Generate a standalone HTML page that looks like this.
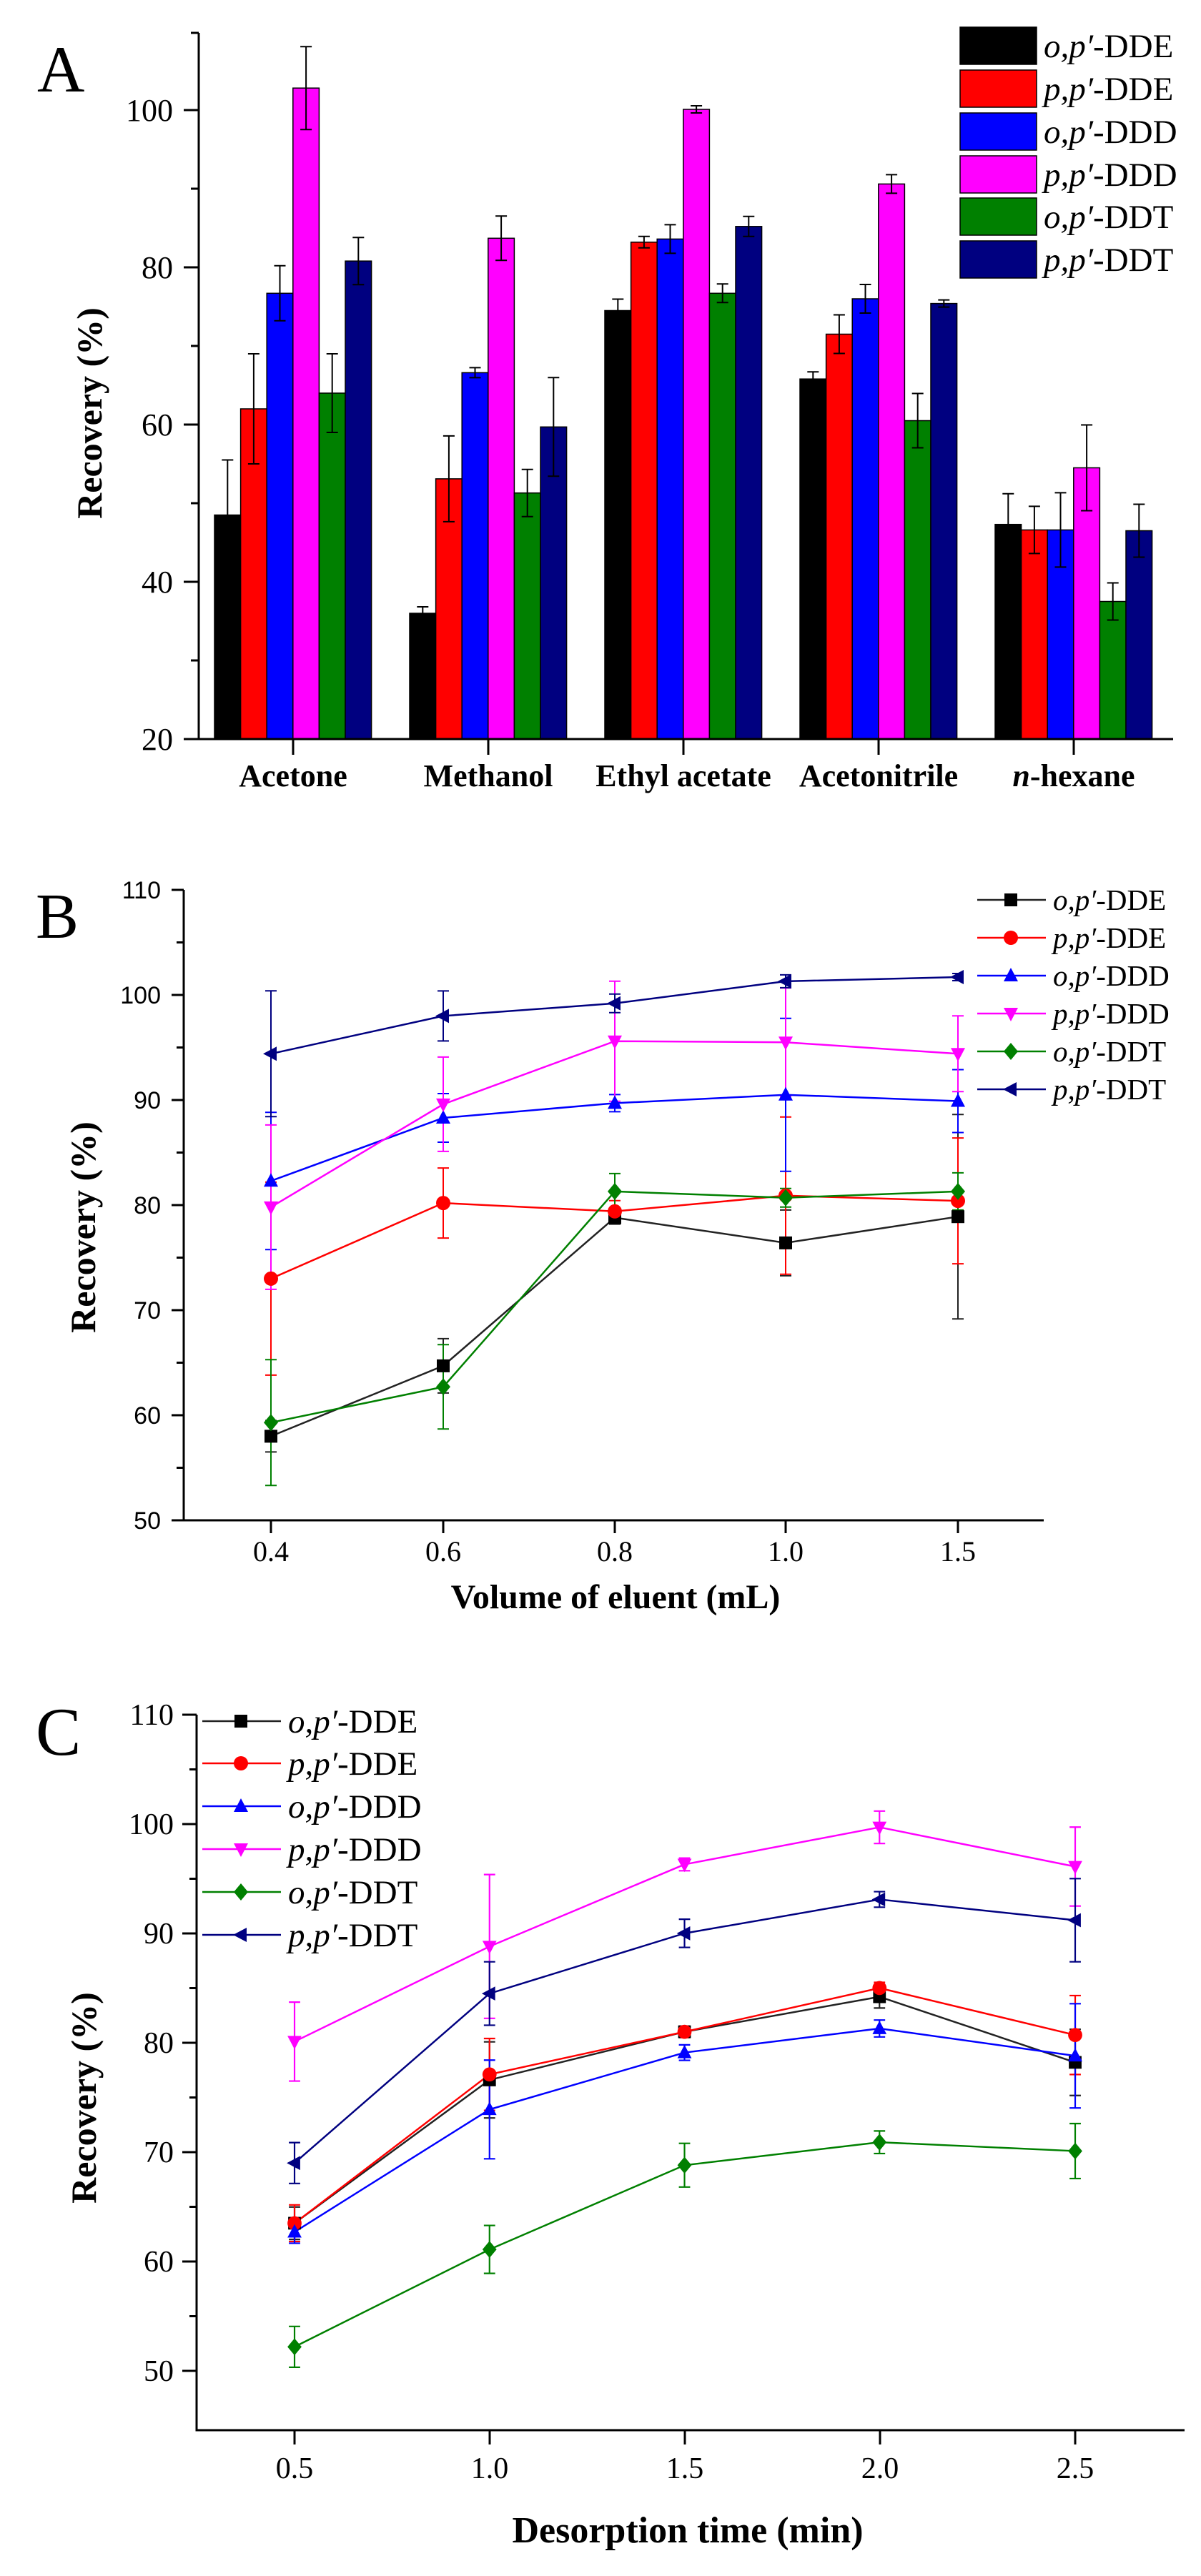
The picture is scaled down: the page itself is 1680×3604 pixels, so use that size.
<!DOCTYPE html>
<html><head><meta charset="utf-8"><style>
html,body{margin:0;padding:0;background:#fff}
svg{display:block}
.t{font-family:"Liberation Serif",serif}
.s{font-family:"Liberation Sans",sans-serif}
</style></head><body>
<svg width="1680" height="3604" viewBox="0 0 1680 3604" xmlns="http://www.w3.org/2000/svg">
<defs>
<rect id="sq" x="-9" y="-9" width="18" height="18"/>
<circle id="ci" r="10"/>
<polygon id="tu" points="0,-11 10,8 -10,8"/>
<polygon id="td" points="0,11 10,-8 -10,-8"/>
<polygon id="di" points="0,-12 10,0 0,12 -10,0"/>
<polygon id="tl" points="-11,0 8,-10 8,10"/>
</defs>

<!-- ================= A ================= -->
<text x="52" y="128" class="t" font-size="92">A</text>
<g stroke="#000" stroke-width="1.5">
<rect x="300" y="720.5" width="36.6" height="313.5" fill="#000"/>
<rect x="336.6" y="572" width="36.6" height="462" fill="#f00"/>
<rect x="373.2" y="410.3" width="36.6" height="623.7" fill="#00f"/>
<rect x="409.8" y="123.2" width="36.6" height="910.8" fill="#f0f"/>
<rect x="446.4" y="550" width="36.6" height="484" fill="#008000"/>
<rect x="483" y="365.2" width="36.6" height="668.8" fill="#000080"/>
<rect x="573" y="858" width="36.6" height="176" fill="#000"/>
<rect x="609.6" y="669.9" width="36.6" height="364.1" fill="#f00"/>
<rect x="646.2" y="521.4" width="36.6" height="512.6" fill="#00f"/>
<rect x="682.8" y="333.3" width="36.6" height="700.7" fill="#f0f"/>
<rect x="719.4" y="689.7" width="36.6" height="344.3" fill="#008000"/>
<rect x="756" y="597.3" width="36.6" height="436.7" fill="#000080"/>
<rect x="846" y="434.5" width="36.6" height="599.5" fill="#000"/>
<rect x="882.6" y="338.8" width="36.6" height="695.2" fill="#f00"/>
<rect x="919.2" y="334.4" width="36.6" height="699.6" fill="#00f"/>
<rect x="955.8" y="153" width="36.6" height="881" fill="#f0f"/>
<rect x="992.4" y="410.3" width="36.6" height="623.7" fill="#008000"/>
<rect x="1029" y="316.8" width="36.6" height="717.2" fill="#000080"/>
<rect x="1119" y="530.2" width="36.6" height="503.8" fill="#000"/>
<rect x="1155.6" y="467.5" width="36.6" height="566.5" fill="#f00"/>
<rect x="1192.2" y="418" width="36.6" height="616" fill="#00f"/>
<rect x="1228.8" y="257.4" width="36.6" height="776.6" fill="#f0f"/>
<rect x="1265.4" y="588.5" width="36.6" height="445.5" fill="#008000"/>
<rect x="1302" y="424.6" width="36.6" height="609.4" fill="#000080"/>
<rect x="1392" y="733.7" width="36.6" height="300.3" fill="#000"/>
<rect x="1428.6" y="741.4" width="36.6" height="292.6" fill="#f00"/>
<rect x="1465.2" y="741.4" width="36.6" height="292.6" fill="#00f"/>
<rect x="1501.8" y="654.5" width="36.6" height="379.5" fill="#f0f"/>
<rect x="1538.4" y="841.5" width="36.6" height="192.5" fill="#008000"/>
<rect x="1575" y="742.5" width="36.6" height="291.5" fill="#000080"/>
</g>
<path fill="none" stroke="#000" stroke-width="2" d="
M318.3 643.5V797.5M310.3 643.5H326.3M310.3 797.5H326.3
M354.9 495V649M346.9 495H362.9M346.9 649H362.9
M391.5 371.8V448.8M383.5 371.8H399.5M383.5 448.8H399.5
M428.1 65.2V181.2M420.1 65.2H436.1M420.1 181.2H436.1
M464.7 495V605M456.7 495H472.7M456.7 605H472.7
M501.3 332.2V398.2M493.3 332.2H509.3M493.3 398.2H509.3
M591.3 849V867M583.3 849H599.3M583.3 867H599.3
M627.9 609.9V729.9M619.9 609.9H635.9M619.9 729.9H635.9
M664.5 514.4V528.4M656.5 514.4H672.5M656.5 528.4H672.5
M701.1 302.3V364.3M693.1 302.3H709.1M693.1 364.3H709.1
M737.7 656.7V722.7M729.7 656.7H745.7M729.7 722.7H745.7
M774.3 528.3V666.3M766.3 528.3H782.3M766.3 666.3H782.3
M864.3 418.5V450.5M856.3 418.5H872.3M856.3 450.5H872.3
M900.9 330.8V346.8M892.9 330.8H908.9M892.9 346.8H908.9
M937.5 314.4V354.4M929.5 314.4H945.5M929.5 354.4H945.5
M974.1 148V158M966.1 148H982.1M966.1 158H982.1
M1010.7 397.3V423.3M1002.7 397.3H1018.7M1002.7 423.3H1018.7
M1047.3 302.8V330.8M1039.3 302.8H1055.3M1039.3 330.8H1055.3
M1137.3 520.2V540.2M1129.3 520.2H1145.3M1129.3 540.2H1145.3
M1173.9 440.5V494.5M1165.9 440.5H1181.9M1165.9 494.5H1181.9
M1210.5 398V438M1202.5 398H1218.5M1202.5 438H1218.5
M1247.1 244.4V270.4M1239.1 244.4H1255.1M1239.1 270.4H1255.1
M1283.7 550.5V626.5M1275.7 550.5H1291.7M1275.7 626.5H1291.7
M1320.3 419.6V429.6M1312.3 419.6H1328.3M1312.3 429.6H1328.3
M1410.3 690.7V776.7M1402.3 690.7H1418.3M1402.3 776.7H1418.3
M1446.9 708.4V774.4M1438.9 708.4H1454.9M1438.9 774.4H1454.9
M1483.5 689.4V793.4M1475.5 689.4H1491.5M1475.5 793.4H1491.5
M1520.1 594.5V714.5M1512.1 594.5H1528.1M1512.1 714.5H1528.1
M1556.7 815.5V867.5M1548.7 815.5H1564.7M1548.7 867.5H1564.7
M1593.3 705.5V779.5M1585.3 705.5H1601.3M1585.3 779.5H1601.3"/>
<path fill="none" stroke="#000" stroke-width="3" d="M278 46V1034H1641
M257 1034H278M257 814H278M257 594H278M257 374H278M257 154H278
M267 924H278M267 704H278M267 484H278M267 264H278M267 46H278
M410 1034V1056M683 1034V1056M956 1034V1056M1229 1034V1056M1502 1034V1056"/>
<g class="t" font-size="44" text-anchor="end">
<text x="242" y="1049">20</text><text x="242" y="829">40</text><text x="242" y="609">60</text><text x="242" y="389">80</text><text x="242" y="169">100</text>
</g>
<text transform="translate(142,578) rotate(-90)" class="t" font-size="50" font-weight="bold" text-anchor="middle">Recovery (%)</text>
<g class="t" font-size="44" font-weight="bold" text-anchor="middle">
<text x="410" y="1100">Acetone</text><text x="683" y="1100">Methanol</text><text x="956" y="1100">Ethyl acetate</text><text x="1229" y="1100">Acetonitrile</text><text x="1502" y="1100"><tspan font-style="italic">n</tspan>-hexane</text>
</g>
<g stroke="#000" stroke-width="1.5">
<rect x="1343" y="38" width="107" height="52" fill="#000"/>
<rect x="1343" y="98" width="107" height="52" fill="#f00"/>
<rect x="1343" y="158" width="107" height="52" fill="#00f"/>
<rect x="1343" y="218" width="107" height="52" fill="#f0f"/>
<rect x="1343" y="277" width="107" height="52" fill="#008000"/>
<rect x="1343" y="337" width="107" height="52" fill="#000080"/>
</g>
<g class="t" font-size="47">
<text x="1460" y="80"><tspan font-style="italic">o,p′</tspan>-DDE</text>
<text x="1460" y="140"><tspan font-style="italic">p,p′</tspan>-DDE</text>
<text x="1460" y="200"><tspan font-style="italic">o,p′</tspan>-DDD</text>
<text x="1460" y="260"><tspan font-style="italic">p,p′</tspan>-DDD</text>
<text x="1460" y="319"><tspan font-style="italic">o,p′</tspan>-DDT</text>
<text x="1460" y="379"><tspan font-style="italic">p,p′</tspan>-DDT</text>
</g>

<!-- ================= B ================= -->
<text x="50" y="1312" class="t" font-size="90">B</text>
<path fill="none" stroke="#000" stroke-width="3" d="M257 1245V2127H1460
M240 1245H257M240 1392H257M240 1539H257M240 1686H257M240 1833H257M240 1980H257M240 2127H257
M247 1318.5H257M247 1465.5H257M247 1612.5H257M247 1759.5H257M247 1906.5H257M247 2053.5H257
M379 2127V2145M620 2127V2145M860 2127V2145M1099 2127V2145M1340 2127V2145"/>
<g class="s" font-size="34" text-anchor="end">
<text x="225" y="1257">110</text><text x="225" y="1404">100</text><text x="225" y="1551">90</text><text x="225" y="1698">80</text><text x="225" y="1845">70</text><text x="225" y="1992">60</text><text x="225" y="2139">50</text>
</g>
<g class="t" font-size="40" text-anchor="middle">
<text x="379" y="2184">0.4</text><text x="620" y="2184">0.6</text><text x="860" y="2184">0.8</text><text x="1099" y="2184">1.0</text><text x="1340" y="2184">1.5</text>
</g>
<text x="861" y="2250" class="t" font-size="48" font-weight="bold" text-anchor="middle">Volume of eluent (mL)</text>
<text transform="translate(133,1717) rotate(-90)" class="t" font-size="50" font-weight="bold" text-anchor="middle">Recovery (%)</text>
<g fill="none" stroke-width="2.5">
<polyline stroke="#222" points="379,2009.4 620,1910.9 860,1703.6 1099,1738.9 1340,1702.2"/>
<polyline stroke="#f00" points="379,1788.9 620,1683.1 860,1694.8 1099,1672.8 1340,1680.1"/>
<polyline stroke="#00f" points="379,1652.2 620,1564 860,1543.4 1099,1531.7 1340,1540.5"/>
<polyline stroke="#f0f" points="379,1688.9 620,1544.9 860,1456.7 1099,1458.2 1340,1474.3"/>
<polyline stroke="#008000" points="379,1990.3 620,1940.3 860,1666.9 1099,1675.7 1340,1666.9"/>
<polyline stroke="#000080" points="379,1474.3 620,1421.4 860,1403.8 1099,1372.9 1340,1367"/>
</g>
<g fill="none" stroke-width="2">
<path stroke="#222" d="M379 1987.4V2031.4M371 1987.4H387M371 2031.4H387M620 1872.9V1948.9M612 1872.9H628M612 1948.9H628M860 1694.6V1712.6M852 1694.6H868M852 1712.6H868M1099 1692.9V1784.9M1091 1692.9H1107M1091 1784.9H1107M1340 1559.2V1845.2M1332 1559.2H1348M1332 1845.2H1348"/>
<path stroke="#f00" d="M379 1653.9V1923.9M371 1653.9H387M371 1923.9H387M620 1634.1V1732.1M612 1634.1H628M612 1732.1H628M860 1679.8V1709.8M852 1679.8H868M852 1709.8H868M1099 1562.8V1782.8M1091 1562.8H1107M1091 1782.8H1107M1340 1592.1V1768.1M1332 1592.1H1348M1332 1768.1H1348"/>
<path stroke="#00f" d="M379 1556.2V1748.2M371 1556.2H387M371 1748.2H387M620 1530V1598M612 1530H628M612 1598H628M860 1531.4V1555.4M852 1531.4H868M852 1555.4H868M1099 1424.7V1638.7M1091 1424.7H1107M1091 1638.7H1107M1340 1496.5V1584.5M1332 1496.5H1348M1332 1584.5H1348"/>
<path stroke="#f0f" d="M379 1573.9V1803.9M371 1573.9H387M371 1803.9H387M620 1478.9V1610.9M612 1478.9H628M612 1610.9H628M860 1372.7V1540.7M852 1372.7H868M852 1540.7H868M1099 1382.2V1534.2M1091 1382.2H1107M1091 1534.2H1107M1340 1421.3V1527.3M1332 1421.3H1348M1332 1527.3H1348"/>
<path stroke="#008000" d="M379 1902.3V2078.3M371 1902.3H387M371 2078.3H387M620 1881.3V1999.3M612 1881.3H628M612 1999.3H628M860 1641.9V1691.9M852 1641.9H868M852 1691.9H868M1099 1662.7V1688.7M1091 1662.7H1107M1091 1688.7H1107M1340 1640.9V1692.9M1332 1640.9H1348M1332 1692.9H1348"/>
<path stroke="#000080" d="M379 1386.3V1562.3M371 1386.3H387M371 1562.3H387M620 1386.4V1456.4M612 1386.4H628M612 1456.4H628M860 1390.8V1416.8M852 1390.8H868M852 1416.8H868M1099 1363.9V1381.9M1091 1363.9H1107M1091 1381.9H1107M1340 1362V1372M1332 1362H1348M1332 1372H1348"/>
</g>
<g fill="#000"><use href="#sq" x="379" y="2009.4"/><use href="#sq" x="620" y="1910.9"/><use href="#sq" x="860" y="1703.6"/><use href="#sq" x="1099" y="1738.9"/><use href="#sq" x="1340" y="1702.2"/></g>
<g fill="#f00"><use href="#ci" x="379" y="1788.9"/><use href="#ci" x="620" y="1683.1"/><use href="#ci" x="860" y="1694.8"/><use href="#ci" x="1099" y="1672.8"/><use href="#ci" x="1340" y="1680.1"/></g>
<g fill="#00f"><use href="#tu" x="379" y="1652.2"/><use href="#tu" x="620" y="1564"/><use href="#tu" x="860" y="1543.4"/><use href="#tu" x="1099" y="1531.7"/><use href="#tu" x="1340" y="1540.5"/></g>
<g fill="#f0f"><use href="#td" x="379" y="1688.9"/><use href="#td" x="620" y="1544.9"/><use href="#td" x="860" y="1456.7"/><use href="#td" x="1099" y="1458.2"/><use href="#td" x="1340" y="1474.3"/></g>
<g fill="#008000"><use href="#di" x="379" y="1990.3"/><use href="#di" x="620" y="1940.3"/><use href="#di" x="860" y="1666.9"/><use href="#di" x="1099" y="1675.7"/><use href="#di" x="1340" y="1666.9"/></g>
<g fill="#000080"><use href="#tl" x="379" y="1474.3"/><use href="#tl" x="620" y="1421.4"/><use href="#tl" x="860" y="1403.8"/><use href="#tl" x="1099" y="1372.9"/><use href="#tl" x="1340" y="1367"/></g>
<!-- legend B -->
<g stroke-width="2.5">
<path stroke="#222" d="M1367 1259H1463"/><path stroke="#f00" d="M1367 1312H1463"/><path stroke="#00f" d="M1367 1365H1463"/><path stroke="#f0f" d="M1367 1418H1463"/><path stroke="#008000" d="M1367 1471H1463"/><path stroke="#000080" d="M1367 1524H1463"/>
</g>
<use href="#sq" x="1414" y="1259" fill="#000"/><use href="#ci" x="1414" y="1312" fill="#f00"/><use href="#tu" x="1414" y="1365" fill="#00f"/><use href="#td" x="1414" y="1418" fill="#f0f"/><use href="#di" x="1414" y="1471" fill="#008000"/><use href="#tl" x="1414" y="1524" fill="#000080"/>
<g class="t" font-size="41">
<text x="1473" y="1273"><tspan font-style="italic">o,p′</tspan>-DDE</text>
<text x="1473" y="1326"><tspan font-style="italic">p,p′</tspan>-DDE</text>
<text x="1473" y="1379"><tspan font-style="italic">o,p′</tspan>-DDD</text>
<text x="1473" y="1432"><tspan font-style="italic">p,p′</tspan>-DDD</text>
<text x="1473" y="1485"><tspan font-style="italic">o,p′</tspan>-DDT</text>
<text x="1473" y="1538"><tspan font-style="italic">p,p′</tspan>-DDT</text>
</g>

<!-- ================= C ================= -->
<text x="50" y="2455" class="t" font-size="95">C</text>
<path fill="none" stroke="#000" stroke-width="3" d="M275 2399V3400H1657
M255 2399H275M255 2552H275M255 2705H275M255 2858H275M255 3011H275M255 3164H275M255 3317H275
M265 2475.5H275M265 2628.5H275M265 2781.5H275M265 2934.5H275M265 3087.5H275M265 3240.5H275
M412 3400V3420M685 3400V3420M958 3400V3420M1231 3400V3420M1504 3400V3420"/>
<g class="t" font-size="42" text-anchor="end">
<text x="243" y="2413">110</text><text x="243" y="2566">100</text><text x="243" y="2719">90</text><text x="243" y="2872">80</text><text x="243" y="3025">70</text><text x="243" y="3178">60</text><text x="243" y="3331">50</text>
</g>
<g class="t" font-size="42" text-anchor="middle">
<text x="412" y="3467">0.5</text><text x="685" y="3467">1.0</text><text x="958" y="3467">1.5</text><text x="1231" y="3467">2.0</text><text x="1504" y="3467">2.5</text>
</g>
<text x="962" y="3557" class="t" font-size="52" font-weight="bold" text-anchor="middle">Desorption time (min)</text>
<text transform="translate(134,2935) rotate(-90)" class="t" font-size="50" font-weight="bold" text-anchor="middle">Recovery (%)</text>
<g transform="matrix(0.98824 0 0 0.98604 0.9 35.46)">
<g fill="none" stroke-width="2.5">
<polyline stroke="#222" points="416,3118.5 692,2915.2 968,2846.9 1244,2797.2 1521,2890.3"/>
<polyline stroke="#f00" points="416,3118.5 692,2907.4 968,2846.9 1244,2784.8 1521,2851.5"/>
<polyline stroke="#00f" points="416,3130.9 692,2957.1 968,2876.4 1244,2842.2 1521,2881"/>
<polyline stroke="#f0f" points="416,2860.8 692,2725.8 968,2609.4 1244,2556.7 1521,2612.5"/>
<polyline stroke="#008000" points="416,3293.9 692,3155.7 968,3036.2 1244,3003.6 1521,3016.1"/>
<polyline stroke="#000080" points="416,3033.1 692,2792.6 968,2707.2 1244,2659.1 1521,2688.6"/>
</g>
<g fill="none" stroke-width="2.2">
<path stroke="#222" d="M416 3095.5V3141.5M408 3095.5H424M408 3141.5H424M692 2861.2V2969.2M684 2861.2H700M684 2969.2H700M968 2838.9V2854.9M960 2838.9H976M960 2854.9H976M1244 2781.2V2813.2M1236 2781.2H1252M1236 2813.2H1252M1521 2843.3V2937.3M1513 2843.3H1529M1513 2937.3H1529"/>
<path stroke="#f00" d="M416 3092.5V3144.5M408 3092.5H424M408 3144.5H424M692 2856.4V2958.4M684 2856.4H700M684 2958.4H700M968 2838.9V2854.9M960 2838.9H976M960 2854.9H976M1244 2776.8V2792.8M1236 2776.8H1252M1236 2792.8H1252M1521 2795.5V2907.5M1513 2795.5H1529M1513 2907.5H1529"/>
<path stroke="#00f" d="M416 3114.9V3146.9M408 3114.9H424M408 3146.9H424M692 2887.1V3027.1M684 2887.1H700M684 3027.1H700M968 2865.4V2887.4M960 2865.4H976M960 2887.4H976M1244 2830.2V2854.2M1236 2830.2H1252M1236 2854.2H1252M1521 2807V2955M1513 2807H1529M1513 2955H1529"/>
<path stroke="#f0f" d="M416 2804.8V2916.8M408 2804.8H424M408 2916.8H424M692 2623.8V2827.8M684 2623.8H700M684 2827.8H700M968 2600.4V2618.4M960 2600.4H976M960 2618.4H976M1244 2533.7V2579.7M1236 2533.7H1252M1236 2579.7H1252M1521 2556.5V2668.5M1513 2556.5H1529M1513 2668.5H1529"/>
<path stroke="#008000" d="M416 3264.9V3322.9M408 3264.9H424M408 3322.9H424M692 3121.7V3189.7M684 3121.7H700M684 3189.7H700M968 3005.2V3067.2M960 3005.2H976M960 3067.2H976M1244 2987.6V3019.6M1236 2987.6H1252M1236 3019.6H1252M1521 2977.1V3055.1M1513 2977.1H1529M1513 3055.1H1529"/>
<path stroke="#000080" d="M416 3004.1V3062.1M408 3004.1H424M408 3062.1H424M692 2747.6V2837.6M684 2747.6H700M684 2837.6H700M968 2687.2V2727.2M960 2687.2H976M960 2727.2H976M1244 2648.1V2670.1M1236 2648.1H1252M1236 2670.1H1252M1521 2629.6V2747.6M1513 2629.6H1529M1513 2747.6H1529"/>
</g>
<g fill="#000"><use href="#sq" x="416" y="3118.5"/><use href="#sq" x="692" y="2915.2"/><use href="#sq" x="968" y="2846.9"/><use href="#sq" x="1244" y="2797.2"/><use href="#sq" x="1521" y="2890.3"/></g>
<g fill="#f00"><use href="#ci" x="416" y="3118.5"/><use href="#ci" x="692" y="2907.4"/><use href="#ci" x="968" y="2846.9"/><use href="#ci" x="1244" y="2784.8"/><use href="#ci" x="1521" y="2851.5"/></g>
<g fill="#00f"><use href="#tu" x="416" y="3130.9"/><use href="#tu" x="692" y="2957.1"/><use href="#tu" x="968" y="2876.4"/><use href="#tu" x="1244" y="2842.2"/><use href="#tu" x="1521" y="2881"/></g>
<g fill="#f0f"><use href="#td" x="416" y="2860.8"/><use href="#td" x="692" y="2725.8"/><use href="#td" x="968" y="2609.4"/><use href="#td" x="1244" y="2556.7"/><use href="#td" x="1521" y="2612.5"/></g>
<g fill="#008000"><use href="#di" x="416" y="3293.9"/><use href="#di" x="692" y="3155.7"/><use href="#di" x="968" y="3036.2"/><use href="#di" x="1244" y="3003.6"/><use href="#di" x="1521" y="3016.1"/></g>
<g fill="#000080"><use href="#tl" x="416" y="3033.1"/><use href="#tl" x="692" y="2792.6"/><use href="#tl" x="968" y="2707.2"/><use href="#tl" x="1244" y="2659.1"/><use href="#tl" x="1521" y="2688.6"/></g>
</g>
<!-- legend C -->
<g stroke-width="2.5">
<path stroke="#222" d="M283 2408H393"/><path stroke="#f00" d="M283 2467H393"/><path stroke="#00f" d="M283 2527H393"/><path stroke="#f0f" d="M283 2587H393"/><path stroke="#008000" d="M283 2647H393"/><path stroke="#000080" d="M283 2707H393"/>
</g>
<use href="#sq" x="337" y="2408" fill="#000"/><use href="#ci" x="337" y="2467" fill="#f00"/><use href="#tu" x="337" y="2527" fill="#00f"/><use href="#td" x="337" y="2587" fill="#f0f"/><use href="#di" x="337" y="2647" fill="#008000"/><use href="#tl" x="337" y="2707" fill="#000080"/>
<g class="t" font-size="47">
<text x="403" y="2424"><tspan font-style="italic">o,p′</tspan>-DDE</text>
<text x="403" y="2483"><tspan font-style="italic">p,p′</tspan>-DDE</text>
<text x="403" y="2543"><tspan font-style="italic">o,p′</tspan>-DDD</text>
<text x="403" y="2603"><tspan font-style="italic">p,p′</tspan>-DDD</text>
<text x="403" y="2663"><tspan font-style="italic">o,p′</tspan>-DDT</text>
<text x="403" y="2723"><tspan font-style="italic">p,p′</tspan>-DDT</text>
</g>
</svg>
</body></html>
